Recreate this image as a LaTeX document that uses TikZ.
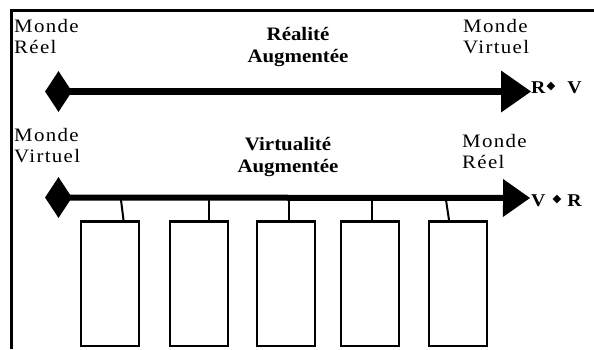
\documentclass[tikz,border=0pt]{standalone}
\usepackage{fontspec}
\setmainfont{Liberation Serif}[FakeStretch=1.1]
\newfontfamily\regfont{Liberation Serif}[FakeStretch=1.1, LetterSpace=7]
\newfontfamily\dvsym{DejaVu Sans}
\usetikzlibrary{shapes.geometric,arrows.meta}
\newcommand\smalldia{\raisebox{3.5pt}{\dvsym\fontsize{11.5}{11.5}\selectfont ◆}}
\begin{document}
\begin{tikzpicture}[x=1pt,y=-1pt,
  lbl/.style={inner sep=0pt, font=\regfont\fontsize{19}{21}\selectfont, align=left, anchor=base west},
  ttl/.style={inner sep=0pt, font=\fontsize{19}{22}\selectfont\bfseries, align=center, anchor=base},
  endlbl/.style={inner sep=0pt, font=\fontsize{18}{18}\selectfont\bfseries, anchor=base west},
  startdia/.style={diamond, fill=black, inner sep=0pt, minimum width=27pt, minimum height=41pt},
  axisline/.style={line width=#1},
  boxnode/.style={draw, line width=2.5pt, minimum width=58pt, minimum height=124.5pt, inner sep=0pt},
  stem/.style={line width=2pt},
  frame/.style={line width=3pt, line join=miter}
]
\useasboundingbox (0,0) rectangle (594,349);
% frame
\coordinate (fb) at (11.5,349);
\coordinate (fc) at (11.5,10.5);
\coordinate (fr) at (594,10.5);
\draw[frame] (fb) -- (fc) -- (fr);

% ---- first axis ----
\node[lbl] (l1) at (14,53) {Monde\\Réel};
\node[ttl] (t1) at (298,62) {Réalité\\Augmentée};
\node[lbl] (r1) at (463,53) {Monde\\Virtuel};
\node[startdia] (d1) at (58.5,91.5) {};
\coordinate (e1) at (531,91.5);
\draw[axisline=7pt, -{Triangle[length=30pt,width=42pt,line width=0pt]}] (d1.center) -- (e1);
\node[endlbl] (rv) at (531,93) {R\hspace{1pt}\smalldia\hspace{12pt}V};

% ---- second axis ----
\node[lbl] (l2) at (14,162) {Monde\\Virtuel};
\node[ttl] (t2) at (288,172) {Virtualité\\Augmentée};
\node[lbl] (r2) at (462,168) {Monde\\Réel};
\node[startdia] (d2) at (58.5,197.5) {};
\coordinate (e2) at (530,198);
\draw[axisline=6pt, -{Triangle[length=27pt,width=38pt,line width=0pt]}] (d2.center) -- (e2);
\node[endlbl] (vr) at (531,206) {V\hspace{7pt}\smalldia\hspace{6pt}R};

% ---- boxes ----
\node[boxnode] (b1) at (110,283.5) {};
\node[boxnode] (b2) at (199,283.5) {};
\node[boxnode] (b3) at (286,283.5) {};
\node[boxnode] (b4) at (370,283.5) {};
\node[boxnode] (b5) at (458,283.5) {};

\coordinate (a1) at (121,200);
\coordinate (a2) at (208.5,200);
\coordinate (a3) at (288.5,200);
\coordinate (a4) at (371.5,200);
\coordinate (a5) at (446,200);
\draw[stem] (a1) -- ([xshift=13.5pt]b1.north);
\draw[stem] (a2) -- ([xshift=9.5pt]b2.north);
\draw[stem] (a3) -- ([xshift=2.5pt]b3.north);
\draw[stem] (a4) -- ([xshift=1.5pt]b4.north);
\draw[stem] (a5) -- ([xshift=-9pt]b5.north);
\end{tikzpicture}
\end{document}
